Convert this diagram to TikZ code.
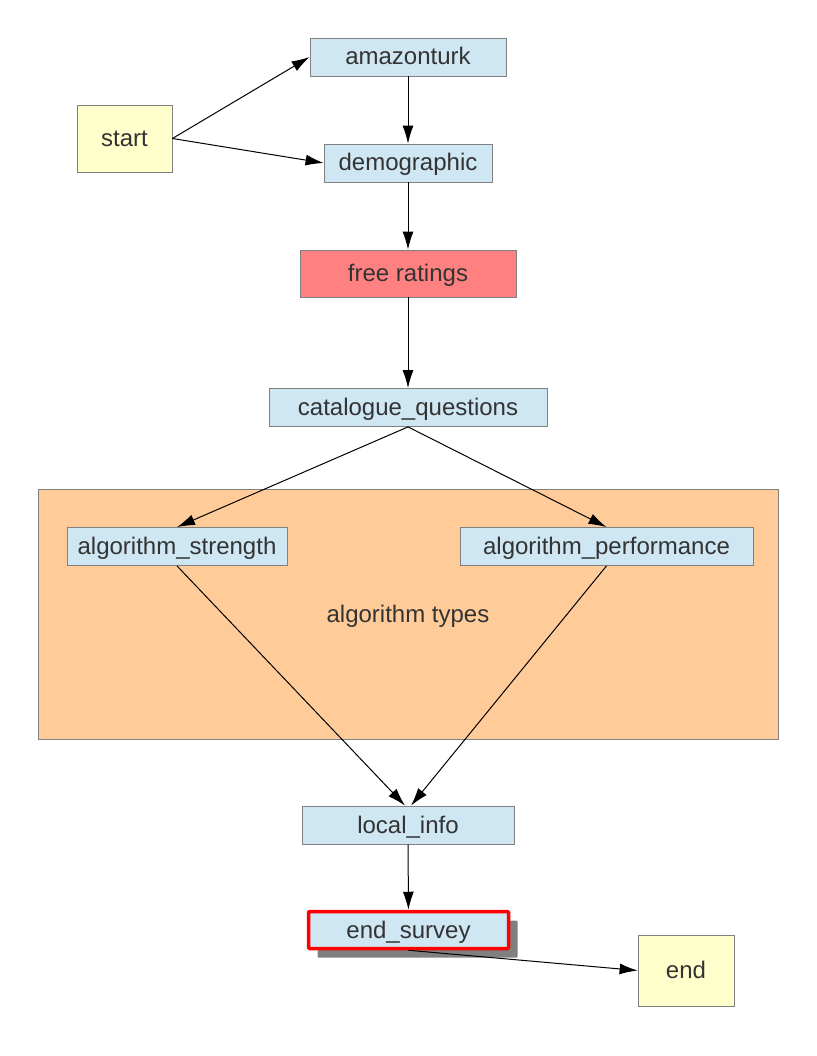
\documentclass[tikz,border=0pt]{standalone}
\usepackage{fontspec}
\setmainfont{Liberation Sans}
\usetikzlibrary{arrows.meta,shadows}
\definecolor{boxblue}{RGB}{207,230,243}
\definecolor{boxyellow}{RGB}{255,255,204}
\definecolor{boxred}{RGB}{255,128,128}
\definecolor{clusterorange}{RGB}{255,204,153}
\definecolor{textgray}{RGB}{51,51,51}
\definecolor{edgegray}{RGB}{128,128,128}

\begin{document}
\begin{tikzpicture}[x=1pt,y=-1pt,
		>={Latex[length=18pt,width=11pt]},
		every path/.style={line width=1pt},
		label text/.style={text=textgray,font=\fontsize{24}{28}\selectfont,text height=16pt,text depth=0pt},
		state/.style={draw=edgegray,line width=0.8pt,fill=boxblue,inner sep=0pt,label text,minimum height=38pt},
		terminal/.style={state,fill=boxyellow}]
		\useasboundingbox (0,0) rectangle (816,1056);
		% cluster
		\draw[draw=edgegray,line width=0.8pt,fill=clusterorange] (38,489) rectangle (778,739);
		\node (types) at (408,614) [label text,inner sep=0pt] {algorithm types};
		% nodes
		\node (start) at (124.5,138.5) [terminal,minimum width=95pt,minimum height=67pt] {start};
		\node (amazon) at (408,57) [state,minimum width=196pt] {amazonturk};
		\node (demo) at (408,163) [state,minimum width=168pt] {demographic};
		\node (free) at (408,273.5) [state,fill=boxred,minimum width=216pt,minimum height=47pt] {free ratings};
		\node (catalogue) at (408,407.5) [state,minimum width=278pt] {catalogue\_questions};
		\node (strength) at (177,546.5) [state,minimum width=220pt] {algorithm\_strength};
		\node (performance) at (606.5,546.5) [state,minimum width=293pt] {algorithm\_performance};
		\node (local) at (408,825) [state,minimum width=212pt] {local\_info};
		\node (survey) at (408.5,930) [state,draw=red,line width=3.5pt,rounded corners=1pt,minimum width=200pt,minimum height=37pt,
			drop shadow={shadow xshift=9pt,shadow yshift=-9pt,fill=edgegray,opacity=1}] {end\_survey};
		\node (end) at (686,970.5) [terminal,minimum width=96pt,minimum height=71pt] {end};
		% edges
		\draw[->] (start.east) -- (amazon.west);
		\draw[->] (start.east) -- (demo.west);
		\draw[->] (amazon) -- (demo);
		\draw[->] (demo) -- (free);
		\draw[->] (free) -- (catalogue);
		\draw[->] (catalogue.south) -- (strength.north);
		\draw[->] (catalogue.south) -- (performance.north);
		\draw[->] (strength.south) -- ([xshift=-3pt]local.north);
		\draw[->] (performance.south) -- ([xshift=3pt]local.north);
		\draw[->] (local) -- (survey);
		\draw[->] (survey.south) -- (end.west);
\end{tikzpicture}
\end{document}
